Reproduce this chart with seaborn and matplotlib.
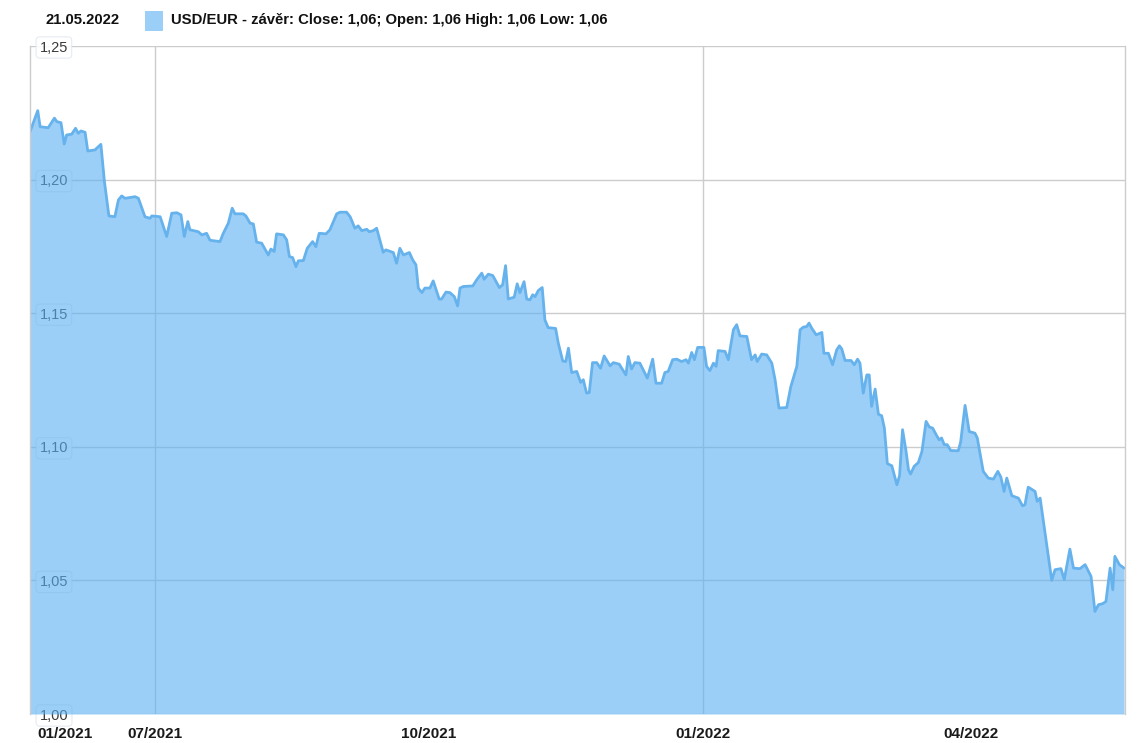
import numpy as np
import pandas as pd
import matplotlib
matplotlib.use("Agg")
import matplotlib.pyplot as plt
import matplotlib.patches as mpatches
from matplotlib.transforms import ScaledTranslation
import seaborn as sns

# USD/EUR denní závěr, den od 20.05.2021 a hodnota
start = pd.Timestamp("2021-05-20")
days = [
    0.0, 2.6, 3.4, 6.1, 8.2, 9.0, 10.4, 11.5, 12.3, 14.0, 15.3, 16.2, 17.1, 18.5, 19.4, 21.8, 23.8, 25.0, 26.5, 28.5,
    29.7, 30.8, 31.9, 35.3, 36.4, 38.6, 40.3, 40.9, 43.7, 45.9, 47.6, 49.3, 50.7, 51.8, 53.0, 53.7, 56.5, 57.7, 59.3, 60.4,
    61.0, 63.8,
    64.9, 66.6, 67.9, 68.8, 71.6, 72.5, 73.9, 75.0, 76.1, 77.8, 80.0, 80.9, 82.0, 82.8, 85.1, 86.2, 87.1, 88.2, 89.3, 90.1,
    91.8, 93.1, 94.9, 96.0, 97.1, 99.4, 100.7, 103.0, 104.1, 106.3, 107.5, 109.1, 110.2, 111.4, 113.1, 113.9, 115.3, 116.4,
    118.6, 119.5, 122.0, 123.1, 124.2, 125.4, 127.4, 128.5, 129.6,
    130.4, 131.6, 132.6, 134.3, 135.4, 137.4, 138.2, 139.7, 141.0, 142.5, 143.6, 144.4, 145.5, 148.7, 150.0, 151.7, 152.5,
    153.9, 155.4, 157.6, 158.7, 159.7, 160.6, 162.6, 163.6, 164.5, 165.9, 166.8, 167.9, 168.8, 169.6, 170.7, 172.0, 172.9,
    174.0, 176.5, 177.4, 178.9, 179.9, 180.8, 181.9, 183.6, 184.9, 185.8, 186.9, 187.8, 188.9, 190.3, 191.6, 192.8,
    194.8, 195.9, 197.9, 198.7, 200.1, 200.9, 202.0, 203.1, 204.8, 207.3, 209.1, 210.2, 212.1, 213.2, 214.3, 215.8, 217.2,
    218.8, 220.3, 221.1, 222.2, 223.1, 224.2, 226.3, 227.2, 228.3, 229.5, 230.4, 231.1, 233.4, 234.5, 236.2, 237.3, 238.4,
    240.7, 242.3, 243.5, 244.2, 245.7, 247.4, 249.1, 250.2, 251.5, 254.1, 255.5, 257.5, 258.6,
    259.7, 260.8, 261.6, 262.5, 264.0, 265.9, 266.6, 268.1, 269.5, 270.9, 271.8, 272.6, 273.7, 275.7, 276.8, 277.9, 278.7,
    279.8, 281.0, 281.8, 282.6, 283.8, 284.9, 286.0, 286.9, 287.9, 289.4, 291.1, 292.0, 293.0, 294.1, 295.0, 295.7, 296.9,
    298.3, 299.5, 300.9, 302.0, 303.1, 304.5, 305.3, 306.1, 307.0, 308.0, 309.2, 311.7, 312.5, 314.0, 315.4, 317.3, 318.1,
    320.1, 321.8, 323.5, 325.0, 326.0, 327.1, 328.0, 329.7, 331.9, 333.3, 334.1, 335.2, 337.5, 338.2, 339.2, 343.1, 344.2,
    346.2, 347.3, 349.2, 350.4, 352.6, 354.3, 356.3, 357.6, 358.8, 360.2, 361.3, 362.7, 363.6, 364.3, 365.8, 367.4,
]
close = [
    1.2179, 1.2258, 1.2198, 1.2194, 1.2230, 1.2217, 1.2213, 1.2133, 1.2167, 1.2170, 1.2192, 1.2173, 1.2182, 1.2177, 1.2107,
    1.2111, 1.2132, 1.1992, 1.1864, 1.1861, 1.1924, 1.1939, 1.1930, 1.1936, 1.1930, 1.1861, 1.1855, 1.1864, 1.1861, 1.1787,
    1.1874, 1.1876, 1.1868, 1.1787, 1.1843, 1.1812, 1.1805, 1.1793, 1.1799, 1.1774, 1.1772, 1.1768,
    1.1799, 1.1837, 1.1893, 1.1872, 1.1872, 1.1864, 1.1837, 1.1834, 1.1766, 1.1762, 1.1718, 1.1740, 1.1731, 1.1797, 1.1793,
    1.1774, 1.1712, 1.1708, 1.1674, 1.1696, 1.1697, 1.1743, 1.1768, 1.1749, 1.1799, 1.1797, 1.1812, 1.1872, 1.1878, 1.1878,
    1.1861, 1.1818, 1.1827, 1.1809, 1.1814, 1.1805, 1.1809, 1.1818, 1.1728, 1.1737, 1.1727, 1.1687, 1.1743, 1.1718, 1.1727,
    1.1700, 1.1681,
    1.1594, 1.1577, 1.1594, 1.1594, 1.1621, 1.1553, 1.1553, 1.1579, 1.1577, 1.1562, 1.1527, 1.1594, 1.1600, 1.1602, 1.1625,
    1.1650, 1.1627, 1.1646, 1.1641, 1.1596, 1.1606, 1.1678, 1.1553, 1.1560, 1.1610, 1.1577, 1.1618, 1.1553, 1.1550, 1.1569,
    1.1562, 1.1585, 1.1596, 1.1475, 1.1446, 1.1443, 1.1388, 1.1321, 1.1319, 1.1369, 1.1278, 1.1282, 1.1241, 1.1251, 1.1201,
    1.1203, 1.1315, 1.1315, 1.1294, 1.1340,
    1.1303, 1.1315, 1.1309, 1.1294, 1.1269, 1.1338, 1.1291, 1.1315, 1.1313, 1.1257, 1.1328, 1.1238, 1.1238, 1.1278, 1.1282,
    1.1326, 1.1328, 1.1319, 1.1326, 1.1313, 1.1353, 1.1326, 1.1372, 1.1372, 1.1301, 1.1285, 1.1313, 1.1301, 1.1360, 1.1357,
    1.1326, 1.1438, 1.1457, 1.1415, 1.1413, 1.1326, 1.1344, 1.1319, 1.1347, 1.1344, 1.1313, 1.1251, 1.1145, 1.1147, 1.1226,
    1.1301, 1.1438,
    1.1448, 1.1450, 1.1463, 1.1444, 1.1419, 1.1428, 1.1350, 1.1350, 1.1307, 1.1363, 1.1378, 1.1366, 1.1323, 1.1323, 1.1307,
    1.1328, 1.1313, 1.1201, 1.1269, 1.1269, 1.1151, 1.1216, 1.1122, 1.1116, 1.1070, 1.0937, 1.0929, 1.0858, 1.0892, 1.1064,
    1.0989, 1.0914, 1.0898, 1.0927, 1.0941, 1.0982, 1.1095, 1.1074, 1.1070, 1.1041, 1.1026, 1.1033, 1.1008, 1.1008, 1.0986,
    1.0985, 1.1017, 1.1155, 1.1057, 1.1051, 1.1033,
    1.0908, 1.0883, 1.0879, 1.0908, 1.0887, 1.0833, 1.0883, 1.0817, 1.0808, 1.0779, 1.0783, 1.0849, 1.0833, 1.0796, 1.0808,
    1.0500, 1.0540, 1.0544, 1.0503, 1.0617, 1.0546, 1.0544, 1.0559, 1.0515, 1.0384, 1.0409, 1.0413, 1.0421, 1.0546, 1.0465,
    1.0590, 1.0559, 1.0546,
]

tick_dates = ["2021-05-20", "2021-07-01", "2021-10-01", "2022-01-01", "2022-04-01"]
tick_labels = ["01/2021", "07/2021", "10/2021", "01/2022", "04/2022"]
vgrid_dates = ["2021-07-01", "2022-01-01"]
y_ticks = [1.00, 1.05, 1.10, 1.15, 1.20, 1.25]

df = pd.DataFrame({"date": start + pd.to_timedelta(days, unit="D"), "close": close})

sns.set_theme(style="white")
plt.rcParams["font.family"] = ["Liberation Sans", "DejaVu Sans"]

fig = plt.figure(figsize=(11.47, 7.43), dpi=100)
ax = fig.add_axes([30 / 1147, 1 - 714 / 743, (1125 - 30) / 1147, (714 - 46) / 743])

# mřížka pod plochou
for y in y_ticks:
    ax.axhline(y, color="#cccccc", lw=1, zorder=0)
for d in vgrid_dates:
    ax.axvline(pd.Timestamp(d), color="#cccccc", lw=1, zorder=0)

ax.fill_between(df["date"], df["close"], 1.0, color="#5ab0f2", alpha=0.6, lw=0, zorder=1)
sns.lineplot(data=df, x="date", y="close", ax=ax, color="#66b2ec", lw=2, zorder=2)

ax.set_xlim(start, start + pd.Timedelta(days=367.7))
ax.set_ylim(1.0, 1.25)
ax.set_xlabel("")
ax.set_ylabel("")

for side in ["top", "bottom"]:
    ax.spines[side].set_visible(False)
for side in ["left", "right"]:
    ax.spines[side].set_color("#cccccc")
    ax.spines[side].set_linewidth(1)

ax.set_yticks(y_ticks)
ax.set_yticklabels([f"{v:.2f}".replace(".", ",") for v in y_ticks])
ax.tick_params(axis="y", direction="in", length=0, pad=-7, labelsize=10.5, labelcolor="#3a3a3a")
for lab in ax.get_yticklabels():
    lab.set_horizontalalignment("left")
    lab.set_bbox(dict(boxstyle="round,pad=0.25", fc=(1, 1, 1, 0.85), ec=(0.87, 0.9, 0.93, 0.8), lw=0.8))
    lab.set_zorder(5)

ax.set_xticks([pd.Timestamp(d) for d in tick_dates])
ax.set_xticklabels(tick_labels)
ax.tick_params(axis="x", length=0, pad=9)
for i, lab in enumerate(ax.get_xticklabels()):
    lab.set_fontweight("bold")
    lab.set_fontsize(11)
    lab.set_color("#1a1a1a")
    if i == 0:
        lab.set_horizontalalignment("left")
        lab.set_transform(lab.get_transform() + ScaledTranslation(7 / 100, 0, fig.dpi_scale_trans))

# legenda nahoře
fig.text(45 / 1147, 1 - 20 / 743, "21.05.2022", ha="left", va="center",
         fontsize=10.7, fontweight="bold", color="#111111")
fig.patches.append(mpatches.Rectangle((145 / 1147, 1 - 31 / 743), 18 / 1147, 20 / 743,
                                      transform=fig.transFigure, fc="#9ccff8", ec="none"))
fig.text(171 / 1147, 1 - 20 / 743, "USD/EUR - závěr: Close: 1,06; Open: 1,06 High: 1,06 Low: 1,06",
         ha="left", va="center", fontsize=10.7, fontweight="bold", color="#111111")

fig.savefig("out.png", dpi=100)
